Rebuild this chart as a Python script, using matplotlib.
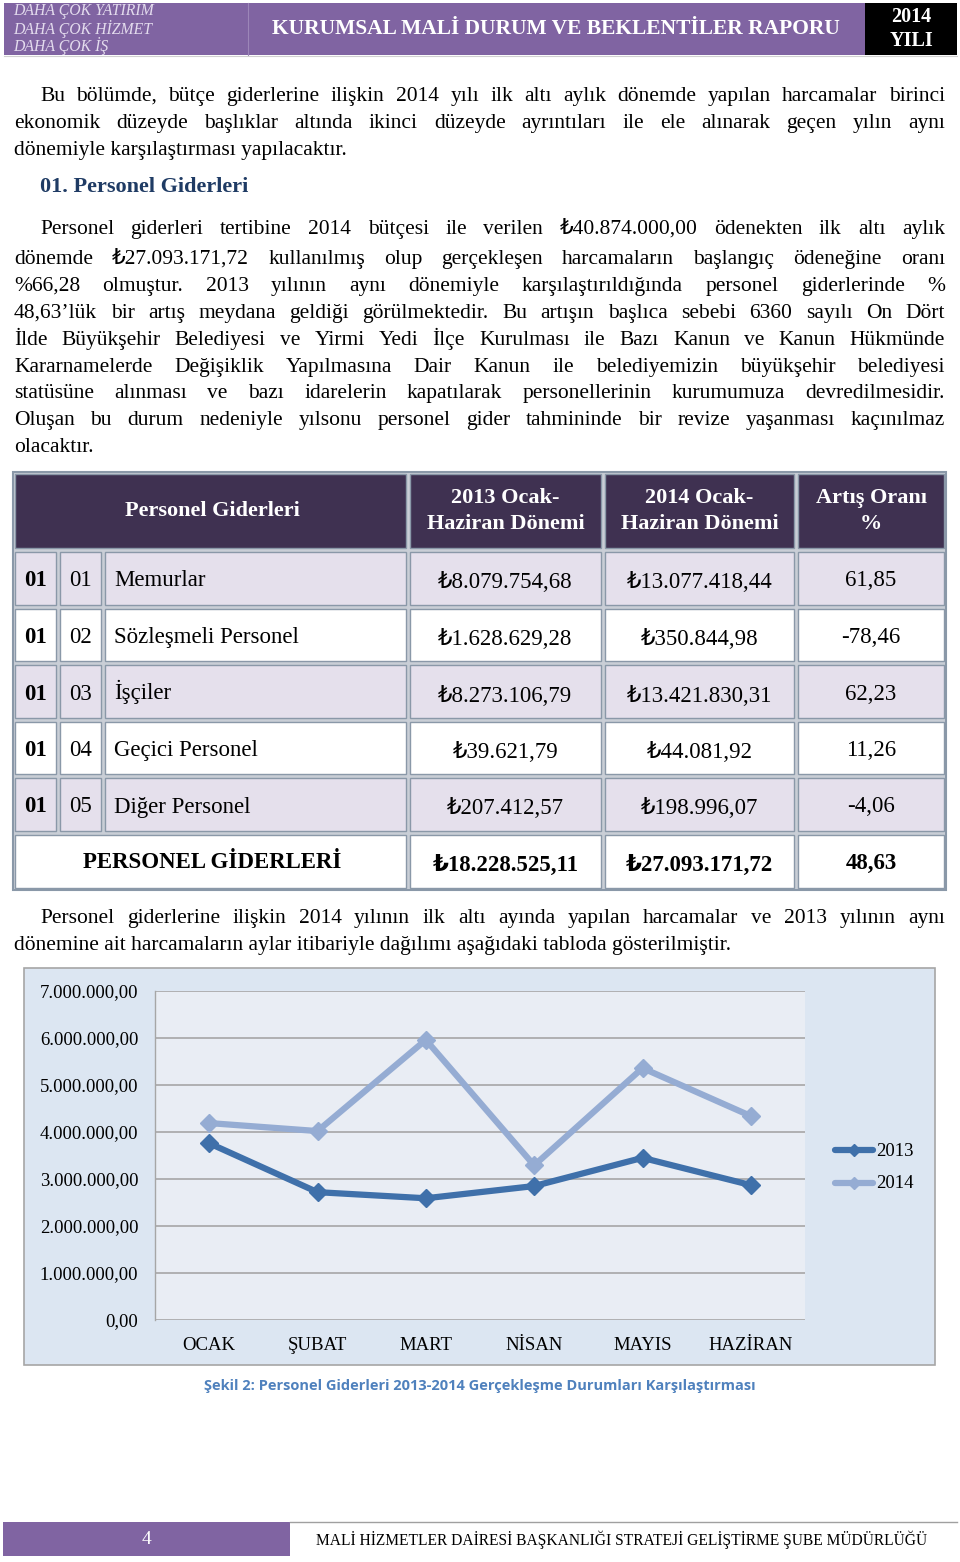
import matplotlib
matplotlib.use("Agg")
import matplotlib.pyplot as plt
from matplotlib.patches import Rectangle
from matplotlib.lines import Line2D

# ---------------- data ----------------
months = ["OCAK", "ŞUBAT", "MART", "NİSAN", "MAYIS", "HAZİRAN"]
series_2013 = [3760000, 2720000, 2590000, 2850000, 3450000, 2870000]
series_2014 = [4190000, 4020000, 5960000, 3290000, 5360000, 4340000]
y_ticks = [0, 1000000, 2000000, 3000000, 4000000, 5000000, 6000000, 7000000]
y_tick_labels = ["0,00", "1.000.000,00", "2.000.000,00", "3.000.000,00",
                 "4.000.000,00", "5.000.000,00", "6.000.000,00", "7.000.000,00"]

table_header = ["Personel Giderleri", "2013 Ocak-\nHaziran Dönemi",
                "2014 Ocak-\nHaziran Dönemi", "Artış Oranı\n%"]
row_codes1 = ["01", "01", "01", "01", "01"]
row_codes2 = ["01", "02", "03", "04", "05"]
row_names = ["Memurlar", "Sözleşmeli Personel", "İşçiler", "Geçici Personel", "Diğer Personel"]
row_2013 = ["₺8.079.754,68", "₺1.628.629,28", "₺8.273.106,79", "₺39.621,79", "₺207.412,57"]
row_2014 = ["₺13.077.418,44", "₺350.844,98", "₺13.421.830,31", "₺44.081,92", "₺198.996,07"]
row_rate = ["61,85", "-78,46", "62,23", "11,26", "-4,06"]
total_label = "PERSONEL GİDERLERİ"
total_2013 = "₺18.228.525,11"
total_2014 = "₺27.093.171,72"
total_rate = "48,63"

para1 = ["Bu bölümde, bütçe giderlerine ilişkin 2014 yılı ilk altı aylık dönemde yapılan harcamalar birinci",
         "ekonomik düzeyde başlıklar altında ikinci düzeyde ayrıntıları ile ele alınarak geçen yılın aynı",
         "dönemiyle karşılaştırması yapılacaktır."]
heading = "01. Personel Giderleri"
para2 = ["Personel giderleri tertibine 2014 bütçesi ile verilen ₺40.874.000,00 ödenekten ilk altı aylık",
         "dönemde ₺27.093.171,72 kullanılmış olup gerçekleşen harcamaların başlangıç ödeneğine oranı",
         "%66,28 olmuştur. 2013 yılının aynı dönemiyle karşılaştırıldığında personel giderlerinde %",
         "48,63’lük bir artış meydana geldiği görülmektedir. Bu artışın başlıca sebebi 6360 sayılı On Dört",
         "İlde Büyükşehir Belediyesi ve Yirmi Yedi İlçe Kurulması ile Bazı Kanun ve Kanun Hükmünde",
         "Kararnamelerde Değişiklik Yapılmasına Dair Kanun ile belediyemizin büyükşehir belediyesi",
         "statüsüne alınması ve bazı idarelerin kapatılarak personellerinin kurumumuza devredilmesidir.",
         "Oluşan bu durum nedeniyle yılsonu personel gider tahmininde bir revize yaşanması kaçınılmaz",
         "olacaktır."]
para3 = ["Personel giderlerine ilişkin 2014 yılının ilk altı ayında yapılan harcamalar ve 2013 yılının aynı",
         "dönemine ait harcamaların aylar itibariyle dağılımı aşağıdaki tabloda gösterilmiştir."]
caption = "Şekil 2: Personel Giderleri 2013-2014 Gerçekleşme Durumları Karşılaştırması"

SERIF = ["Liberation Serif", "DejaVu Sans"]

W, H = 960, 1562
fig = plt.figure(figsize=(W / 100, H / 100), dpi=100)
fig.patch.set_facecolor("white")
ax = fig.add_axes([0, 0, 1, 1])
ax.set_xlim(0, W)
ax.set_ylim(H, 0)
ax.axis("off")
renderer = fig.canvas.get_renderer()


def txt(x, y, s, size=15, **kw):
    kw.setdefault("family", SERIF)
    kw.setdefault("va", "center")
    return ax.text(x, y, s, fontsize=size, **kw)


def justify(line, x0, x1, y, size=15.5, justify_line=True, **kw):
    yb = y + 6
    if not justify_line:
        txt(x0, yb, line, size, ha="left", va="baseline", **kw)
        return
    words = line.split(" ")
    objs = [txt(x0, yb, w_, size, ha="left", va="baseline", **kw) for w_ in words]
    widths = [o.get_window_extent(renderer).width for o in objs]
    gap = (x1 - x0 - sum(widths)) / (len(words) - 1)
    x = x0
    for o, wd in zip(objs, widths):
        o.set_x(x)
        x += wd + gap


# ---------------- header ----------------
purple = "#8064a2"
ax.add_patch(Rectangle((4, 3), 861, 52, facecolor=purple, edgecolor="none"))
ax.plot([248, 248], [3, 55], color="#9c86b8", lw=0.8)
ax.add_patch(Rectangle((865, 3), 92, 52, facecolor="black", edgecolor="none"))
for yy, s in zip([11, 29, 46], ["DAHA ÇOK YATIRIM", "DAHA ÇOK HİZMET", "DAHA ÇOK İŞ"]):
    txt(13, yy, s, 11.3, style="italic", color="#e4dcee", ha="left")
txt(556, 29, "KURUMSAL MALİ DURUM VE BEKLENTİLER RAPORU", 15.5, weight="bold",
    color="white", ha="center")
txt(911, 17, "2014", 14.5, weight="bold", color="white", ha="center")
txt(911, 41, "YILI", 14.5, weight="bold", color="white", ha="center")
ax.plot([4, 957], [56, 56], color="#d0d0d0", lw=0.8)

# ---------------- paragraphs ----------------
L, R, IND = 14, 945, 40
BS = 15.5
for i, (line, yy) in enumerate(zip(para1, [95, 122, 149])):
    justify(line, IND if i == 0 else L, R, yy, BS, justify_line=(i < len(para1) - 1))

txt(IND, 192, heading, 16, weight="bold", color="#1f3b64", ha="left", va="baseline")

ys2 = [228, 258, 285, 312, 339, 366, 392, 419, 446]
for i, (line, yy) in enumerate(zip(para2, ys2)):
    justify(line, IND if i == 0 else L, R, yy, BS, justify_line=(i < len(para2) - 1))

# ---------------- table ----------------
cols = [13, 58, 103, 408, 603, 796, 946]
head_top, head_bot = 472, 550
row_edges = [550, 607, 663, 720, 776, 833, 890]
border = "#8a98a8"
ax.add_patch(Rectangle((cols[0], head_top), cols[-1] - cols[0], row_edges[-1] - head_top,
                       facecolor="#c9ced6", edgecolor=border, lw=1.5))
inset = 2


def cell(x0, x1, y0, y1, fc):
    ax.add_patch(Rectangle((x0 + inset, y0 + inset), x1 - x0 - 2 * inset, y1 - y0 - 2 * inset,
                           facecolor=fc, edgecolor=border, lw=1.0))


hdr = "#3f3151"
cell(cols[0], cols[3], head_top, head_bot, hdr)
cell(cols[3], cols[4], head_top, head_bot, hdr)
cell(cols[4], cols[5], head_top, head_bot, hdr)
cell(cols[5], cols[6], head_top, head_bot, hdr)
hc = [(cols[0] + cols[3]) / 2 + 2, (cols[3] + cols[4]) / 2, (cols[4] + cols[5]) / 2,
      (cols[5] + cols[6]) / 2]
hy = (head_top + head_bot) / 2
for cx, s in zip(hc, table_header):
    txt(cx, hy, s, 16, weight="bold", color="white", ha="center", linespacing=1.45)

FS = 16.5
lav = "#e5e0ec"
for i in range(5):
    y0, y1 = row_edges[i], row_edges[i + 1]
    fc = lav if i % 2 == 0 else "white"
    for c in range(6):
        cell(cols[c], cols[c + 1], y0, y1, fc)
    yb = (y0 + y1) / 2 + 8
    txt((cols[0] + cols[1]) / 2, yb, row_codes1[i], FS, weight="bold", ha="center", va="baseline")
    txt((cols[1] + cols[2]) / 2, yb, row_codes2[i], FS, ha="center", va="baseline")
    txt(cols[2] + 11, yb, row_names[i], FS, ha="left", va="baseline")
    txt((cols[3] + cols[4]) / 2, yb + 2, row_2013[i], FS, ha="center", va="baseline")
    txt((cols[4] + cols[5]) / 2, yb + 2, row_2014[i], FS, ha="center", va="baseline")
    txt((cols[5] + cols[6]) / 2, yb, row_rate[i], FS, ha="center", va="baseline")

y0, y1 = row_edges[5], row_edges[6]
cell(cols[0], cols[3], y0, y1, "white")
cell(cols[3], cols[4], y0, y1, "white")
cell(cols[4], cols[5], y0, y1, "white")
cell(cols[5], cols[6], y0, y1, "white")
yb = (y0 + y1) / 2 + 7
txt(hc[0], yb, total_label, FS, weight="bold", ha="center", va="baseline")
txt(hc[1], yb + 2, total_2013, FS, weight="bold", ha="center", va="baseline")
txt(hc[2], yb + 2, total_2014, FS, weight="bold", ha="center", va="baseline")
txt(hc[3], yb, total_rate, FS, weight="bold", ha="center", va="baseline")

for i, (line, yy) in enumerate(zip(para3, [917, 944])):
    justify(line, IND if i == 0 else L, R, yy, BS, justify_line=(i < len(para3) - 1))

# ---------------- chart ----------------
ax.add_patch(Rectangle((24, 968), 911, 397, facecolor="#dce6f2", edgecolor="#a6a6a6", lw=1.2))
pl, pr, pt, pb = 155, 805, 991, 1320
cax = fig.add_axes([pl / W, 1 - pb / H, (pr - pl) / W, (pb - pt) / H])
cax.set_facecolor("#e9edf4")
cax.set_xlim(-0.5, len(months) - 0.5)
cax.set_ylim(0, 7000000)
for s in ["top", "right", "bottom"]:
    cax.spines[s].set_visible(False)
cax.spines["left"].set_color("#a6a6a6")
cax.spines["left"].set_linewidth(1.0)
cax.set_yticks(y_ticks)
cax.set_yticklabels(y_tick_labels, family=SERIF, fontsize=13.5)
cax.set_xticks(range(len(months)))
cax.set_xticklabels(months, family=SERIF, fontsize=13.5)
cax.tick_params(axis="y", length=0, pad=12)
cax.tick_params(axis="x", length=0, pad=12)
cax.yaxis.grid(True, color="#a6a6a6", lw=1.2)
cax.set_axisbelow(True)
c13, c14 = "#3f70aa", "#95acd3"
cax.plot(range(len(months)), series_2014, color=c14, lw=4.5, marker="D", ms=9,
         solid_joinstyle="round", solid_capstyle="round", clip_on=False, label="2014")
cax.plot(range(len(months)), series_2013, color=c13, lw=4.5, marker="D", ms=9,
         solid_joinstyle="round", solid_capstyle="round", clip_on=False, label="2013")

# legend (manual)
for yy, col, lab in [(1150, c13, "2013"), (1183, c14, "2014")]:
    ax.add_line(Line2D([835, 873], [yy, yy], color=col, lw=4.5, solid_capstyle="round"))
    ax.add_line(Line2D([854], [yy], color=col, marker="D", ms=6, ls="none"))
    txt(876, yy + 1, lab, 13.5, ha="left")

txt(480, 1386, caption, 10.5, family=["Open Sans", "DejaVu Sans"], weight="bold",
    color="#4f81bd", ha="center")

# ---------------- footer ----------------
ax.add_patch(Rectangle((3, 1522), 287, 34, facecolor=purple, edgecolor="none"))
ax.plot([290, 957], [1522, 1522], color="#a0a0a0", lw=1.0)
txt(146, 1540, "4", 14, color="white", ha="center")
txt(622, 1540, "MALİ HİZMETLER DAİRESİ BAŞKANLIĞI STRATEJİ GELİŞTİRME ŞUBE MÜDÜRLÜĞÜ", 11.2,
    ha="center")

fig.savefig("out.png", dpi=100, facecolor="white")
